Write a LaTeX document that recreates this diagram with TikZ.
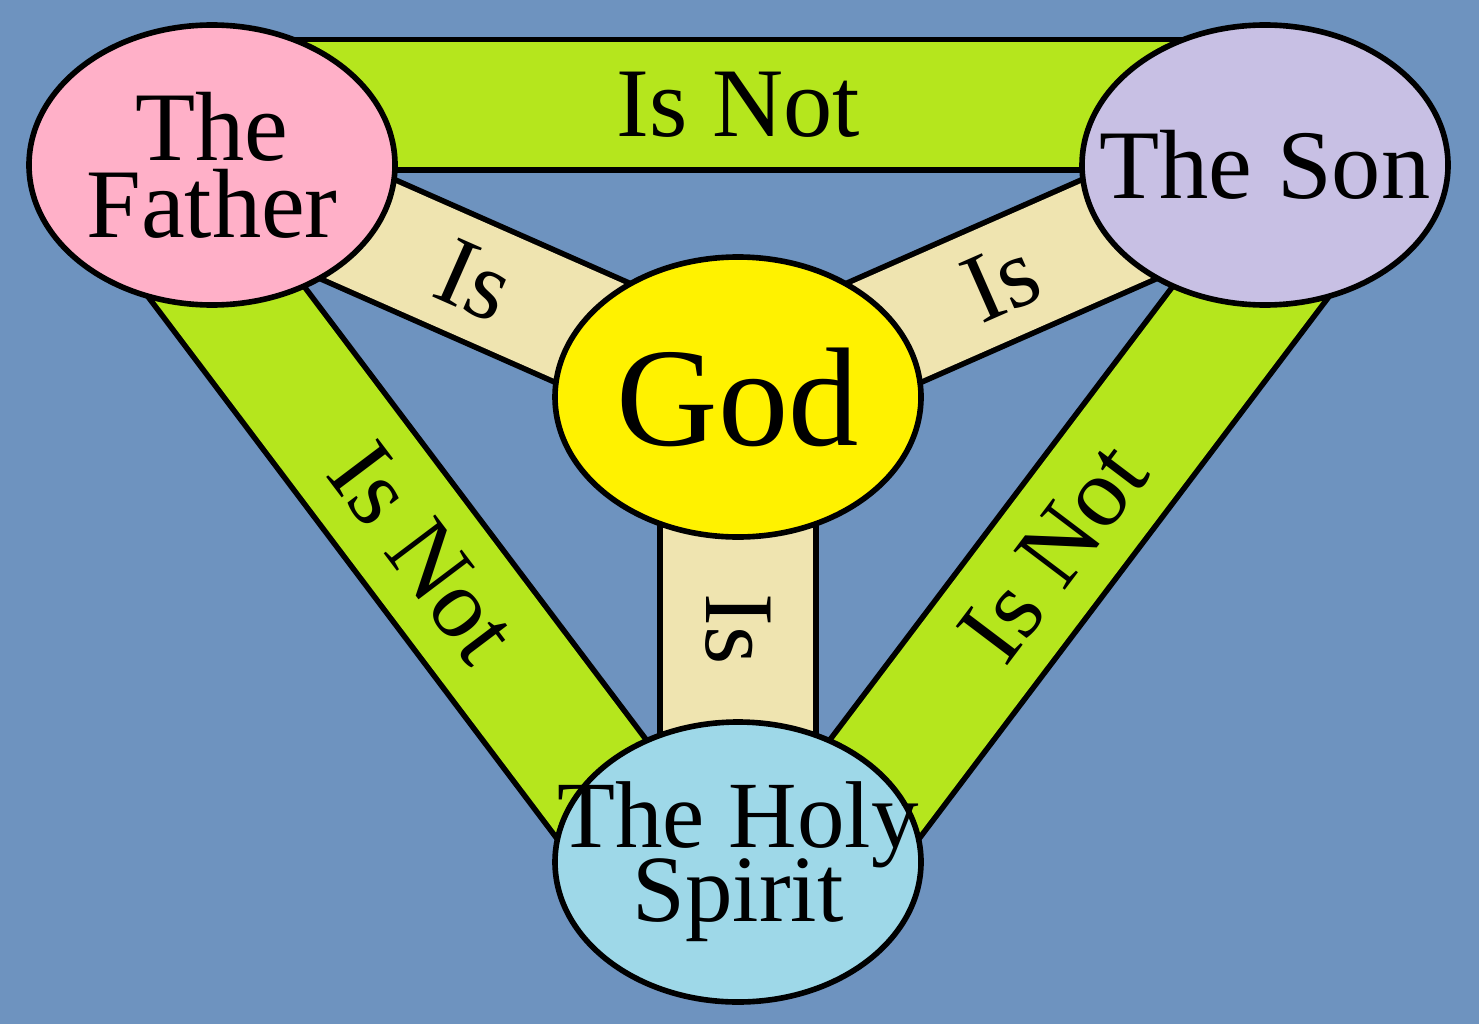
\documentclass[tikz,border=0pt]{standalone}
\usepackage{fontspec}
\setmainfont{Liberation Serif}
\usetikzlibrary{calc,shapes.geometric}
\definecolor{sky}{HTML}{6E93BF}
\definecolor{fathercol}{HTML}{FFB0C8}
\definecolor{soncol}{HTML}{C8C0E4}
\definecolor{godcol}{HTML}{FFF200}
\definecolor{spiritcol}{HTML}{9ED8E8}
\definecolor{notcol}{HTML}{B5E61D}
\definecolor{iscol}{HTML}{EFE4B0}

\begin{document}
\begin{tikzpicture}
    \tikzstyle{person} = [draw, ellipse, line width=1.6pt, inner sep=0pt, minimum width=3.66cm, minimum height=2.8cm]
    \tikzstyle{persontext} = [align=center, font=\fontsize{28}{28}\selectfont]
    \tikzstyle{notband} = [line width=1.6pt, double=notcol, double distance=1.25cm]
    \tikzstyle{isband} = [line width=1.6pt, double=iscol, double distance=1.15cm]
    \tikzstyle{bandtext} = [font=\fontsize{28}{28}\selectfont]

    \fill[sky] (0,0) rectangle (14.79,10.24);
    \useasboundingbox (0,0) rectangle (14.79,10.24);

    \coordinate (f) at (2.12,8.59);
    \coordinate (s) at (12.65,8.59);
    \coordinate (g) at (7.38,6.27);
    \coordinate (h) at (7.38,1.62);

    % the outer bands
    \draw[notband] ($(f)!0.6cm!90:(s)$) -- node[bandtext] (topnot) {Is Not} ($(s)!0.6cm!-90:(f)$);
    \draw[notband] ($(f)!0.65cm!-90:(h)$) -- node[bandtext, sloped] (leftnot) {Is Not} ($(h)!0.65cm!90:(f)$);
    \draw[notband] ($(s)!0.65cm!90:(h)$) -- node[bandtext, sloped] (rightnot) {Is Not} ($(h)!0.65cm!-90:(s)$);

    % the inner bands
    \draw[isband] (f) -- node[bandtext, sloped] (leftis) {Is} (g);
    \draw[isband] (s) -- node[bandtext, sloped] (rightis) {Is} (g);
    \draw[isband, double distance=1.5cm] (g) -- node[bandtext, rotate=-90] (downis) {Is} (h);

    \node[person, fill=fathercol, label={[persontext]center:{The\\[-6pt]Father}}] (father) at (f) {};
    \node[person, fill=soncol, label={[persontext]center:{The Son}}] (son) at (s) {};
    \node[person, fill=godcol, label={[persontext, font=\fontsize{40}{40}\selectfont]center:{God}}] (god) at (g) {};
    \node[person, fill=spiritcol, label={[persontext, font=\fontsize{27}{27}\selectfont]center:{The Holy\\[-6pt]Spirit}}] (spirit) at (h) {};
\end{tikzpicture}
\end{document}
